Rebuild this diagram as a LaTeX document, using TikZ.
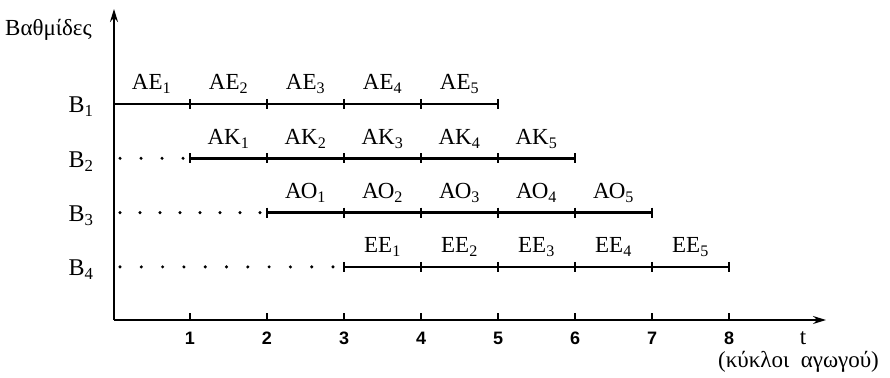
\documentclass[tikz,border=0pt]{standalone}
\usepackage{fontspec}
\setmainfont{Liberation Serif}
\newfontfamily\numfont{Liberation Sans}
\usetikzlibrary{arrows.meta}
\tikzset{
  axis/.style={line width=1.7pt, -{Stealth[length=13pt,width=8pt]}},
  stageline/.style={line width=2.4pt},
  rowtick/.style={line width=1.4pt},
  axtick/.style={line width=1.1pt},
  stagelbl/.style={anchor=base, inner sep=0pt, font=\fontsize{23}{26}\selectfont},
  rowlbl/.style={anchor=base, inner sep=0pt, font=\fontsize{24}{27}\selectfont},
  numlbl/.style={anchor=base, inner sep=0pt, font=\numfont\bfseries\fontsize{18}{20}\selectfont},
  greeklbl/.style={anchor=base west, inner sep=0pt, font=\fontsize{23}{26}\selectfont},
  dotmark/.style={fill=black, draw=none}
}
\begin{document}
\begin{tikzpicture}[x=1pt,y=-1pt]
\useasboundingbox (0,0) rectangle (890,377);
% axes
\coordinate (O) at (114,320);
\coordinate (ytop) at (114,9);
\coordinate (xend) at (826,320);
\draw[axis] (O) -- (ytop);
\draw[axis] (O) -- (xend);
\node[greeklbl] (ylab) at (5,36) {Βαθμίδες};
\node[numlbl, font=\fontsize{23}{26}\selectfont] (tlab) at (803,344) {t};
\node[greeklbl] (xlab) at (718,367) {(κύκλοι\ \ αγωγού)};
% axis ticks and numbers
\foreach \k in {1,...,8} {
  \coordinate (ax\k) at ({113+77*\k},320);
  \draw[axtick] (ax\k) -- ++(0,-7);
  \node[numlbl] (n\k) at ({113+77*\k},344) {\k};
}
% rows
\foreach \i/\pre in {1/ΑΕ,2/ΑΚ,3/ΑΟ,4/ΕΕ} {
  \pgfmathsetmacro{\yy}{104+54.3*(\i-1)}
  \pgfmathtruncatemacro{\s}{\i-1}
  \pgfmathtruncatemacro{\e}{\i+4}
  \node[rowlbl] (B\i) at (81,{\yy+9}) {Β\textsubscript{\i}};
  \coordinate (r\i s) at ({max(114,113+77*\s)},\yy);
  \coordinate (r\i e) at ({113+77*\e},\yy);
  \draw[stageline] (r\i s) -- (r\i e);
  \foreach \j in {\s,...,\e} {
    \ifnum\j>0
      \draw[rowtick] ({113+77*\j},{\yy-5}) -- ({113+77*\j},{\yy+5});
    \fi
  }
  \foreach \j in {1,...,5} {
    \pgfmathsetmacro{\xc}{113+77*(\s+\j-0.5)}
    \node[stagelbl] (L\i\j) at (\xc,{\yy-14}) {\pre\textsubscript{\j}};
  }
}
% leading dots
\foreach \k in {0,...,3} \fill[dotmark] ({120+21*\k},158.3) circle (1.7);
\foreach \k in {0,...,7} \fill[dotmark] ({120+20*\k},212.6) circle (1.7);
\foreach \k in {0,...,10} \fill[dotmark] ({120+21.3*\k},266.9) circle (1.7);
\end{tikzpicture}
\end{document}
